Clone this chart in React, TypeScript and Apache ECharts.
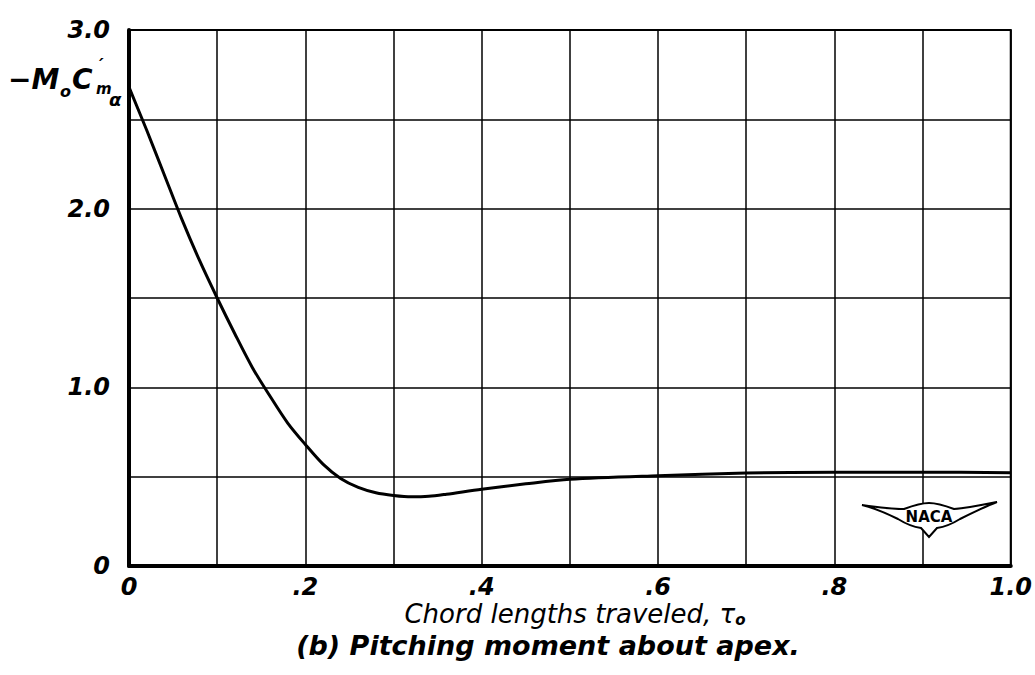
import React, { useEffect, useRef } from "react";
import * as echarts from "echarts";

// chord lengths traveled (tau_o)
const tau = [0, 0.02, 0.04, 0.06, 0.08, 0.1, 0.12, 0.14, 0.16, 0.18, 0.2, 0.22, 0.24, 0.26, 0.28, 0.3, 0.32, 0.34, 0.36, 0.4, 0.45, 0.5, 0.6, 0.7, 0.8, 0.9, 1.0];
// -M_o C'_m_alpha
const moment = [2.68, 2.44, 2.19, 1.94, 1.71, 1.5, 1.3, 1.11, 0.95, 0.8, 0.68, 0.57, 0.49, 0.44, 0.41, 0.395, 0.387, 0.39, 0.402, 0.43, 0.46, 0.485, 0.505, 0.52, 0.525, 0.525, 0.522];

const xTickLabels = ["0", "", ".2", "", ".4", "", ".6", "", ".8", "", "1.0"];
const yTickLabels = ["0", "", "1.0", "", "2.0", "", "3.0"];
const xAxisTitle = "Chord lengths traveled, τ";
const xAxisTitleSub = "o";
const caption = "(b) Pitching moment about apex.";
const logoText = "NACA";

const FONT = '"DejaVu Sans", sans-serif';

const WING =
  "M0 4 C14 6 30 8 42 8 C50 5 58 2 67 2 C76 2 84 5 92 8 C106 7 120 4 135 1 C122 6 110 12 98 18 C90 23 82 26 75 27 L67 36 L59 27 C52 26 44 23 36 18 C24 12 12 7 0 4 Z";

let registered = false;

export default function App() {
  const ref = useRef<HTMLDivElement>(null);

  useEffect(() => {
    document.body.style.margin = "0";
    if (!registered) {
      echarts.graphic.registerShape("nacawing", echarts.graphic.extendPath(WING, {}) as any);
      registered = true;
    }
    const chart = echarts.init(ref.current!, null, { renderer: "svg" });
    const labelBase = {
      color: "#000",
      fontFamily: FONT,
      fontStyle: "italic" as const,
      fontWeight: "bold" as const,
      fontSize: 24,
    };
    const option: any = {
      animation: false,
      backgroundColor: "#fff",
      grid: {
        left: 129,
        top: 30,
        right: 17,
        bottom: 109,
        show: true,
        borderColor: "#000",
        borderWidth: 2,
      },
      xAxis: {
        type: "value",
        min: 0,
        max: 1,
        interval: 0.1,
        axisLine: { show: true, onZero: false, lineStyle: { color: "#000", width: 4 } },
        axisTick: { show: false },
        splitLine: { show: true, lineStyle: { color: "#000", width: 1.5 } },
        axisLabel: {
          ...labelBase,
          margin: 9,
          lineHeight: 24,
          formatter: (v: number) => xTickLabels[Math.round(v * 10)] ?? "",
        },
      },
      yAxis: {
        type: "value",
        min: 0,
        max: 3,
        interval: 0.5,
        axisLine: { show: true, lineStyle: { color: "#000", width: 4 } },
        axisTick: { show: false },
        splitLine: { show: true, lineStyle: { color: "#000", width: 1.5 } },
        axisLabel: {
          ...labelBase,
          margin: 19,
          formatter: (v: number) => yTickLabels[Math.round(v * 2)] ?? "",
        },
      },
      series: [
        {
          type: "line",
          data: tau.map((t, i) => [t, moment[i]]),
          smooth: 0.3,
          symbol: "none",
          lineStyle: { color: "#000", width: 3 },
          z: 5,
        },
      ],
      graphic: [
        // y-axis name: -M_o C'_m_alpha
        { type: "text", x: 8, y: 79, z: 10, style: { text: "−M", fill: "#000", font: `italic bold 28px ${FONT}`, verticalAlign: "middle" } },
        { type: "text", x: 60, y: 91, z: 10, style: { text: "o", fill: "#000", font: `italic bold 16px ${FONT}`, verticalAlign: "middle" } },
        { type: "text", x: 72, y: 79, z: 10, style: { text: "C", fill: "#000", font: `italic bold 28px ${FONT}`, verticalAlign: "middle" } },
        { type: "text", x: 99, y: 64, z: 10, style: { text: "′", fill: "#000", font: `italic bold 18px ${FONT}`, verticalAlign: "middle" } },
        { type: "text", x: 96, y: 89, z: 10, style: { text: "m", fill: "#000", font: `italic bold 15px ${FONT}`, verticalAlign: "middle" } },
        { type: "text", x: 109, y: 99, z: 10, style: { text: "α", fill: "#000", font: `italic bold 18px ${FONT}`, verticalAlign: "middle" } },
        // x-axis title
        {
          type: "text",
          x: 575,
          y: 614,
          z: 10,
          style: {
            text: `{a|${xAxisTitle}}{s|${xAxisTitleSub}}`,
            align: "center",
            verticalAlign: "middle",
            rich: {
              a: { fill: "#000", fontFamily: FONT, fontStyle: "italic", fontSize: 26, lineHeight: 26 },
              s: { fill: "#000", fontFamily: FONT, fontStyle: "italic", fontWeight: "bold", fontSize: 15, verticalAlign: "bottom", lineHeight: 26 },
            },
          },
        },
        // caption
        {
          type: "text",
          x: 548,
          y: 645,
          z: 10,
          style: {
            text: caption,
            fill: "#000",
            font: `italic bold 27px ${FONT}`,
            align: "center",
            verticalAlign: "middle",
          },
        },
        // NACA logo
        {
          type: "nacawing",
          x: 862,
          y: 501,
          z: 10,
          style: { fill: "#fff", stroke: "#000", lineWidth: 2 },
        },
        {
          type: "text",
          x: 929,
          y: 517,
          z: 11,
          style: {
            text: logoText,
            fill: "#000",
            font: `bold 15px ${FONT}`,
            align: "center",
            verticalAlign: "middle",
          },
        },
      ],
    };
    chart.setOption(option);
    return () => chart.dispose();
  }, []);

  return <div ref={ref} style={{ width: 1035, height: 675 }} />;
}
